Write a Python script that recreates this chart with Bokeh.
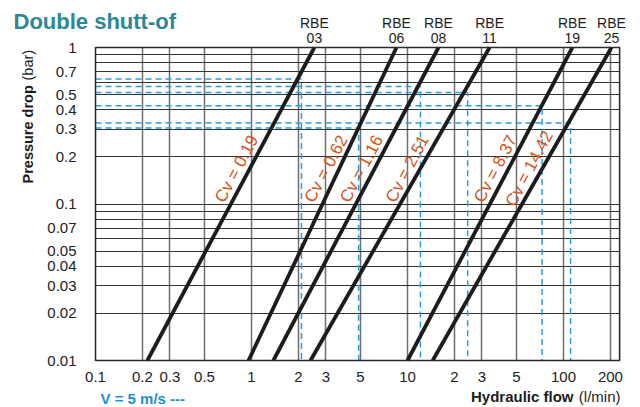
import math
from bokeh.plotting import figure
from bokeh.models import FixedTicker, Label, LabelSet, ColumnDataSource, Range1d, Grid
from bokeh.embed import file_html
from bokeh.resources import INLINE
from bokeh.core.properties import value

# ---------------- data ----------------
valves = ["03", "06", "08", "11", "19", "25"]
cv_values = ["0.19", "0.62", "1.16", "2.51", "8.37", "14.42"]
flow_at_dp_min = [0.215, 0.957, 1.38, 2.39, 10.0, 14.5]     # l/min at 0.01 bar
flow_at_dp_max = [2.53, 8.5, 15.8, 33.6, 114.0, 203.0]      # l/min at 1 bar
v5_flow = [2.09, 4.86, 12.1, 24.3, 72.9, 111.0]             # flow at V = 5 m/s
v5_dp = [0.629, 0.306, 0.564, 0.516, 0.425, 0.329]          # pressure drop at V = 5 m/s

x_ticks = [0.1, 0.2, 0.3, 0.5, 1, 2, 3, 5, 10, 20, 30, 50, 100, 200]
x_tick_labels = ["0.1", "0.2", "0.3", "0.5", "1", "2", "3", "5", "10", "2", "3", "5", "100", "200"]
y_ticks = [1, 0.7, 0.5, 0.4, 0.3, 0.2, 0.1, 0.07, 0.05, 0.04, 0.03, 0.02, 0.01]
y_tick_labels = ["1", "0.7", "0.5", "0.4", "0.3", "0.2", "0.1", "0.07", "0.05", "0.04", "0.03", "0.02", "0.01"]
y_grid = [1, 0.9, 0.8, 0.7, 0.6, 0.5, 0.4, 0.3, 0.2, 0.1, 0.09, 0.08, 0.07, 0.06,
          0.05, 0.04, 0.03, 0.02, 0.01]
x_min, x_max = 0.1, 229
dp_min, dp_max = 0.01, 1

# ---------------- layout (pixels) ----------------
W, H = 640, 407
CH_LEFT, CH_TOP = 95, 47            # chart box position on the canvas
DEC_X = 156.0                       # pixels per decade, flow axis
DEC_Y = 156.5                       # pixels per decade, pressure axis
lx0 = math.log10(x_min) - CH_LEFT / DEC_X
lx1 = math.log10(x_min) + (W - CH_LEFT) / DEC_X
ly1 = math.log10(dp_max) + CH_TOP / DEC_Y
ly0 = math.log10(dp_max) - (H - CH_TOP) / DEC_Y

FONT = "Liberation Sans"
BLUE = "#2a9edb"
ORANGE = "#d6541c"
INK = "#1c1c1c"

p = figure(width=W, height=H, x_axis_type="log", y_axis_type="log", title=None,
           x_range=Range1d(10 ** lx0, 10 ** lx1), y_range=Range1d(10 ** ly0, 10 ** ly1),
           min_border=0, output_backend="svg", toolbar_location=None)
p.background_fill_color = "white"
p.border_fill_color = "white"
p.outline_line_color = None

# axes drawn at the chart box edges
p.xaxis.fixed_location = dp_min
p.yaxis.fixed_location = x_min
p.xaxis.ticker = FixedTicker(ticks=x_ticks)
p.xaxis.major_label_overrides = {t: l for t, l in zip(x_ticks, x_tick_labels)}
p.yaxis.ticker = FixedTicker(ticks=y_ticks)
p.yaxis.major_label_overrides = {t: l for t, l in zip(y_ticks, y_tick_labels)}
for ax in (p.xaxis, p.yaxis):
    ax.axis_line_color = None
    ax.major_tick_line_color = None
    ax.minor_tick_line_color = None
    ax.major_label_text_font = FONT
    ax.major_label_text_font_size = "15px"
    ax.major_label_text_color = "#222222"
p.yaxis.major_label_standoff = 13
p.xaxis.major_label_standoff = 5

# grids, limited to the chart box
use_cross = "cross_bounds" in Grid.properties()
if use_cross:
    p.xgrid.ticker = FixedTicker(ticks=x_ticks + [x_max])
    p.xgrid.cross_bounds = (dp_min, dp_max)
    p.ygrid.ticker = FixedTicker(ticks=y_grid)
    p.ygrid.cross_bounds = (x_min, x_max)
    p.xgrid.grid_line_color = "#6e6e6e"
    p.xgrid.grid_line_width = 1.5
    p.ygrid.grid_line_color = "#333333"
    p.ygrid.grid_line_width = 1
else:
    p.xgrid.visible = False
    p.ygrid.visible = False
    p.segment(x0=x_ticks + [x_max], y0=dp_min, x1=x_ticks + [x_max], y1=dp_max,
              line_color="#6e6e6e", line_width=1.5)
    p.segment(x0=x_min, y0=y_grid, x1=x_max, y1=y_grid, line_color="#333333", line_width=1)

# blue dashed V = 5 m/s guides
p.multi_line(xs=[[x_min, f, f] for f in v5_flow],
             ys=[[d, d, dp_min] for d in v5_dp],
             line_color=BLUE, line_width=1.5, line_dash="6 4")

# valve lines
p.multi_line(xs=[[a, b] for a, b in zip(flow_at_dp_min, flow_at_dp_max)],
             ys=[[dp_min, dp_max] for _ in valves],
             line_color=INK, line_width=3.8)

# chart box border
p.quad(left=x_min, right=x_max, bottom=dp_min, top=dp_max,
       fill_color=None, line_color="#2a2a2a", line_width=1.3)

# Cv labels along each line
label_dp = 0.168
t = (math.log10(label_dp) - math.log10(dp_min)) / (math.log10(dp_max) - math.log10(dp_min))
lab_x = [10 ** (math.log10(a) + t * (math.log10(b) - math.log10(a)))
         for a, b in zip(flow_at_dp_min, flow_at_dp_max)]
p.text(x=lab_x, y=[label_dp] * len(lab_x), text=["Cv = " + c for c in cv_values],
       angle=62, angle_units="deg", text_align="center", text_baseline="middle",
       x_offset=-13, text_font=value(FONT), text_font_size="17px", text_color=ORANGE)

# RBE labels above the chart
src = ColumnDataSource(dict(x=flow_at_dp_max, y=[dp_max] * len(valves),
                            rbe=["RBE"] * len(valves), num=valves))
p.add_layout(LabelSet(x="x", y="y", text="rbe", source=src, y_offset=20,
                      text_align="center", text_baseline="alphabetic",
                      text_font=value(FONT), text_font_size="14px", text_color=INK))
p.add_layout(LabelSet(x="x", y="y", text="num", source=src, y_offset=5,
                      text_align="center", text_baseline="alphabetic",
                      text_font=value(FONT), text_font_size="14px", text_color=INK))

SHIFT = 6.5   # compensates the label box offset seen for alphabetic baselines

def lab(text, px, py, size, color=INK, style="normal", align="left", angle=0):
    # px, py: canvas pixels (from the top-left corner) of the text baseline start
    if angle:
        px -= SHIFT
    else:
        py -= SHIFT
    p.add_layout(Label(x=px, y=H - py, x_units="screen", y_units="screen", text=text,
                       text_font=FONT, text_font_size=size, text_color=color,
                       text_font_style=style, text_align=align,
                       text_baseline="alphabetic", angle=angle))

lab("Double shutt-of", 13, 27, "22px", color="#2c8796", style="bold")
lab("Pressure drop", 34, 183, "14.5px", style="bold", angle=math.pi / 2)
lab("(bar)", 34, 80, "14.5px", angle=math.pi / 2)
lab("Hydraulic flow", 573, 402, "15px", style="bold", align="right")
lab("(l/min)", 620, 402, "15px", align="right")
lab("V = 5 m/s ---", 100, 404, "15px", color="#1e8fd2", style="bold")

open("out.html", "w").write(file_html(p, INLINE))
